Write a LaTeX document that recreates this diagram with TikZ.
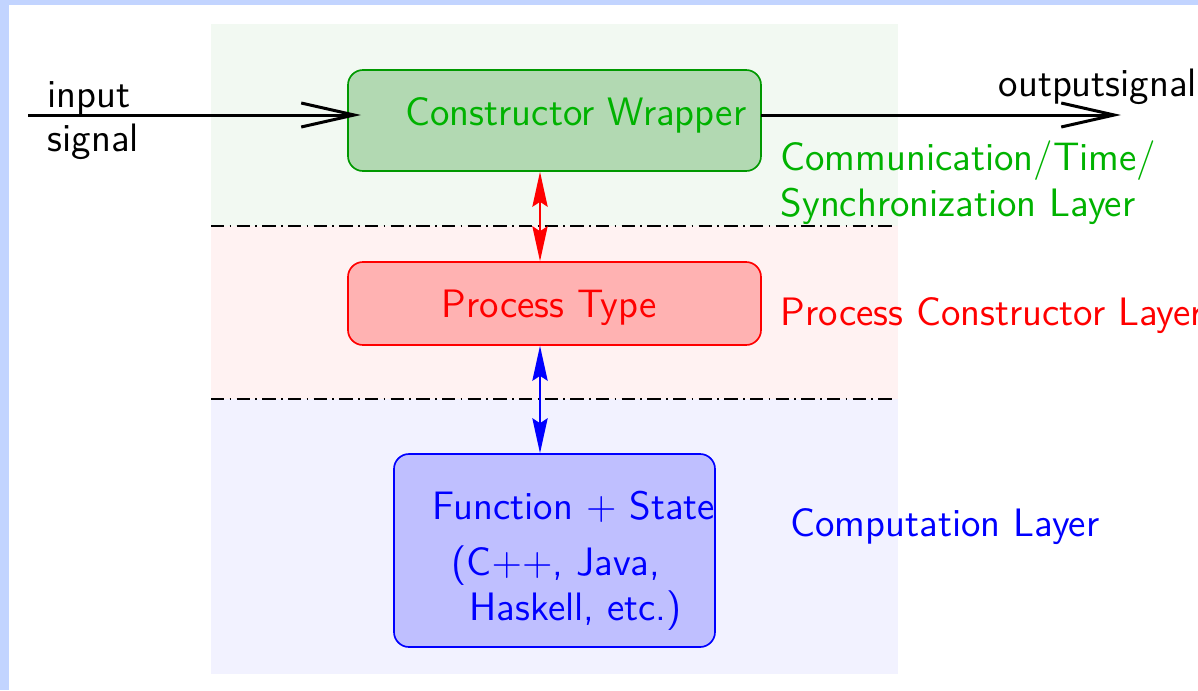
\documentclass[tikz,border=0pt]{standalone}
\usetikzlibrary{arrows.meta}
\definecolor{framecol}{RGB}{194,212,255}
\colorlet{cwfill}{green!50!black!30}
\colorlet{cwdraw}{green!60!black}
\colorlet{cwtext}{green!70!black}
\tikzset{
  lbl/.style={anchor=base west, inner sep=0pt, font=\sffamily\fontsize{11.9}{14}\selectfont},
  layerbox/.style={rounded corners=4.5pt, line width=0.5pt, minimum width=#1, inner sep=0pt},
  signalarrow/.style={line width=0.9pt, -{Straight Barb[length=15.9pt,width=7.2pt]}},
  linkarrow/.style={line width=0.5pt, {Stealth[length=10.5pt,width=4.6pt,inset=1.5pt]}-{Stealth[length=10.5pt,width=4.6pt,inset=1.5pt]}},
  sepline/.style={line width=0.4pt, dash pattern=on 4pt off 1.6pt on 0.5pt off 1.6pt},
}
\begin{document}
\begin{tikzpicture}[x=0.3pt, y=-0.3pt]
  \useasboundingbox (0,0) rectangle (1198,690);
  % frame edges
  \fill[framecol] (0,0) rectangle (1198,5);
  \fill[framecol] (0,0) rectangle (9,690);
  % layer backgrounds
  \fill[green!50!black!5] (211,24) rectangle (898,226);
  \fill[red!5] (211,226) rectangle (898,399);
  \fill[blue!5] (211,399) rectangle (898,674);
  % layer separators
  \draw[sepline] (211,226) -- (895,226);
  \draw[sepline] (211,399) -- (895,399);

  % boxes
  \node[layerbox=123.9pt, minimum height=30.3pt, draw=cwdraw, fill=cwfill] (cw) at (554.5,120.5) {};
  \node[layerbox=123.9pt, minimum height=24.9pt, draw=red, fill=red!30] (pt) at (554.5,303.5) {};
  \node[layerbox=96.3pt, minimum height=57.9pt, draw=blue, fill=blue!25] (fs) at (554.5,550.5) {};

  % box texts
  \node[lbl, text=cwtext] (cwt) at (405,125) {Constructor Wrapper};
  \node[lbl, text=red] (ptt) at (441,317) {Process Type};
  \node[lbl, text=blue] (fs1) at (432,519) {Function $+$ State};
  \node[lbl, text=blue] (fs2) at (451,575) {(C$++$, Java,};
  \node[lbl, text=blue] (fs3) at (469,620) {Haskell, etc.)};

  % layer names
  \node[lbl, text=cwtext] (l1a) at (780,170) {Communication/Time/};
  \node[lbl, text=cwtext] (l1b) at (780,216) {Synchronization Layer};
  \node[lbl, text=red] (l2) at (780,325) {Process Constructor Layer};
  \node[lbl, text=blue] (l3) at (790,536) {Computation Layer};

  % signals
  \coordinate (inS) at (28,115);
  \coordinate (outE) at (1121,115);
  \coordinate (cwIn) at (361,115);
  \coordinate (cwOut) at (761,115);
  \draw[signalarrow] (inS) -- (cwIn);
  \draw[signalarrow] (cwOut) -- (outE);
  \node[lbl] (inl1) at (47,107) {input};
  \node[lbl] (inl2) at (47,151) {signal};
  \node[lbl] (outl) at (998,96) {outputsignal};

  % links between layers
  \draw[linkarrow, red] (cw.south -| 540,0) -- (pt.north -| 540,0);
  \draw[linkarrow, blue] (pt.south -| 540,0) -- (fs.north -| 540,0);
\end{tikzpicture}
\end{document}
